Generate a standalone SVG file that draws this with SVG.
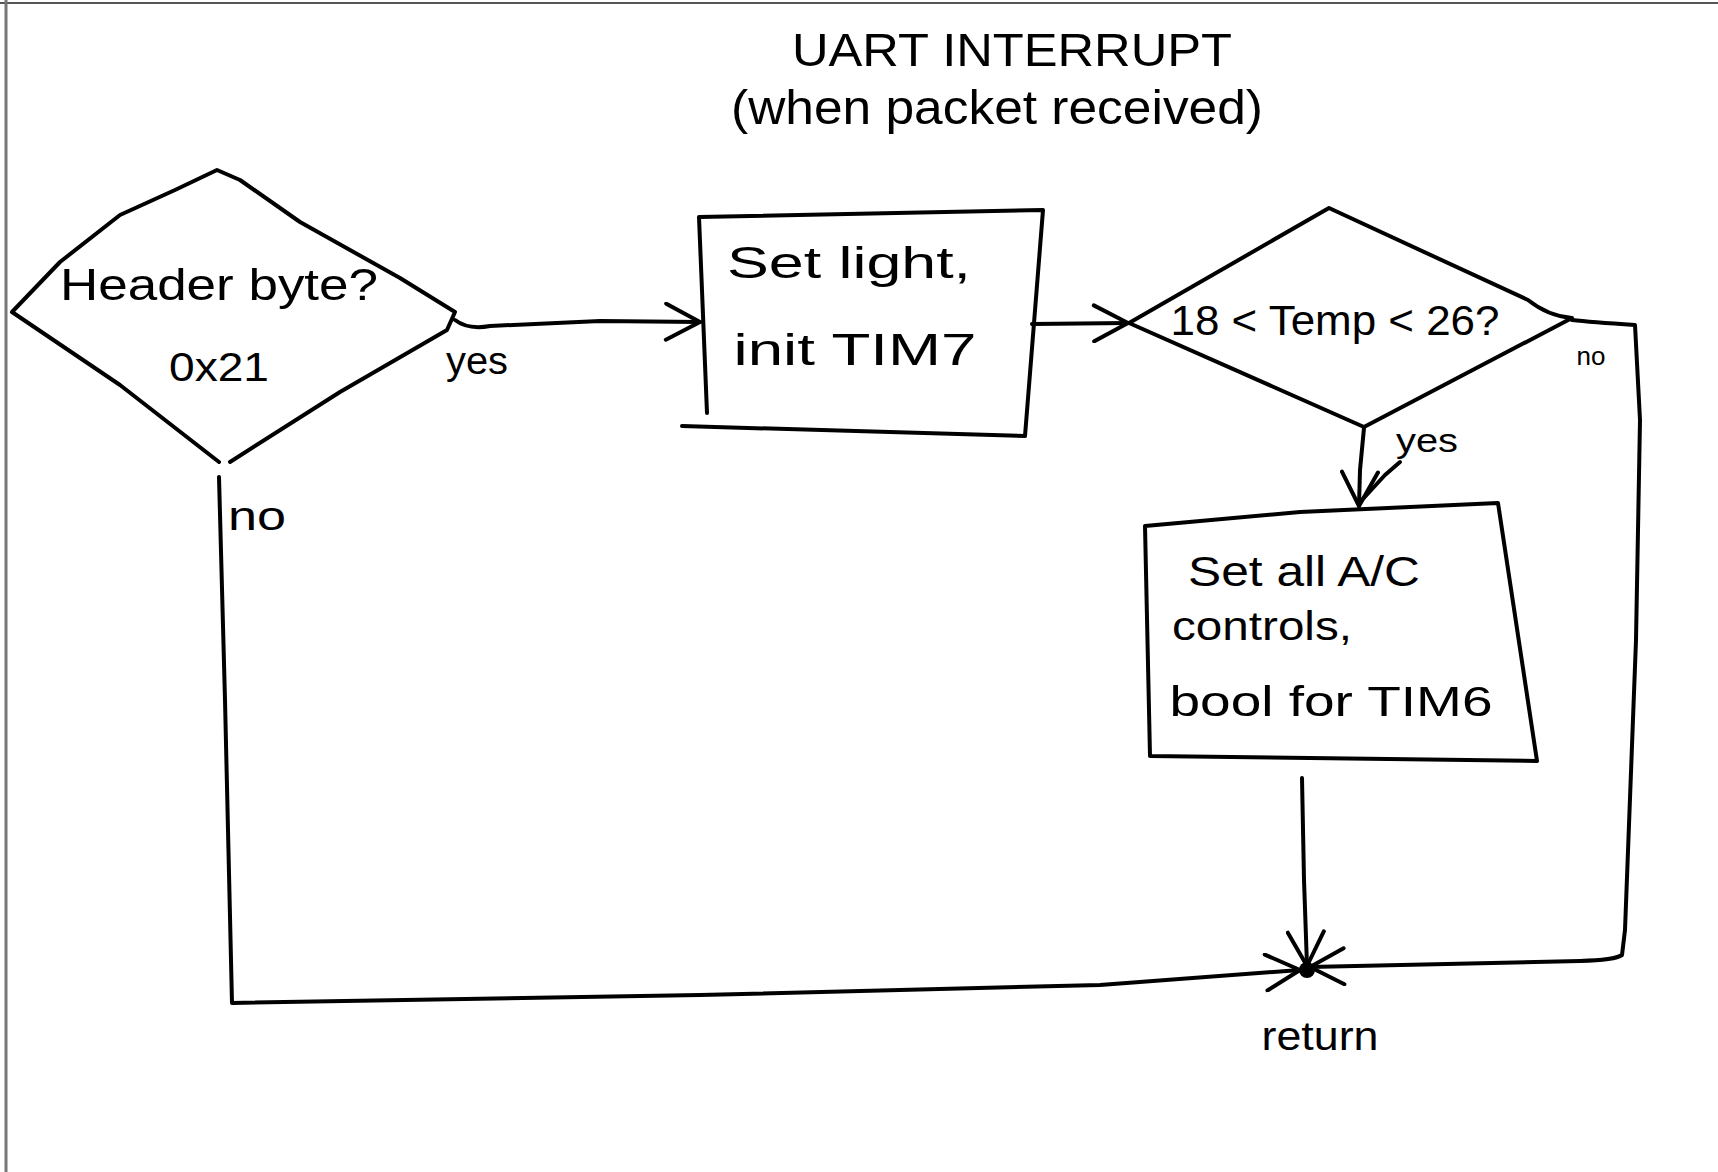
<svg xmlns="http://www.w3.org/2000/svg" width="1718" height="1172" viewBox="0 0 1718 1172">
<defs>
<style>
.s{fill:none;stroke:#000;stroke-width:4;stroke-linecap:round;stroke-linejoin:round}
.t{font-family:"Liberation Sans","DejaVu Sans",sans-serif;fill:#000;text-anchor:middle}
</style>
<marker id="arr" viewBox="0 0 40 40" refX="38" refY="20" markerWidth="40" markerHeight="40" markerUnits="userSpaceOnUse" orient="auto">
<path d="M4,2 L38,20 L4,38" fill="none" stroke="#000" stroke-width="4" stroke-linecap="round" stroke-linejoin="round"/>
</marker>
</defs>
<rect width="1718" height="1172" fill="#fff"/>
<line x1="0" y1="3" x2="1718" y2="3" stroke="#555" stroke-width="2"/>
<line x1="6" y1="0" x2="6" y2="1172" stroke="#777" stroke-width="3"/>

<g id="title">
<text class="t" x="1012" y="66" font-size="46" textLength="440" lengthAdjust="spacingAndGlyphs">UART INTERRUPT</text>
<text class="t" x="997" y="124" font-size="48" textLength="532" lengthAdjust="spacingAndGlyphs">(when packet received)</text>
</g>

<g id="connectors">
<path class="s" d="M455,320 Q468,330 490,326 L600,321 L700,322" marker-end="url(#arr)"/>
<path class="s" d="M1032,324 L1128,323" marker-end="url(#arr)"/>
<path class="s" d="M1364,428 L1360,470 L1359,506" marker-end="url(#arr)"/>
<path class="s" d="M1572,320 Q1590,322 1635,325 L1640,420 L1636,640 L1625,930 L1622,955 Q1615,960 1580,961 L1310,967" marker-end="url(#arr)"/>
<path class="s" d="M1302,778 L1304,880 L1307,966" marker-end="url(#arr)"/>
<path class="s" d="M219,477 L225,700 L232,1003 L700,995 L1100,985 L1300,970" marker-end="url(#arr)"/>
<circle cx="1307" cy="970" r="8" fill="#000"/>
<text class="t" x="477" y="374" font-size="38" textLength="62" lengthAdjust="spacingAndGlyphs">yes</text>
<text class="t" x="257" y="530" font-size="40" textLength="58" lengthAdjust="spacingAndGlyphs">no</text>
<text class="t" x="1591" y="365" font-size="26">no</text>
<text class="t" x="1427" y="452" font-size="34" textLength="62" lengthAdjust="spacingAndGlyphs">yes</text>
<path class="s" d="M1362,500 L1385,475 L1400,462"/>
</g>

<g id="header-byte">
<path class="s" d="M219,462 L120,385 L12,312 L60,262 L120,215 L175,190 L217,170 L240,180 L300,222 L400,278 L455,312 L447,330 L340,392 L230,462"/>
<text class="t" x="219" y="300" font-size="44" textLength="318" lengthAdjust="spacingAndGlyphs">Header byte?</text>
<text class="t" x="219" y="381" font-size="40" textLength="100" lengthAdjust="spacingAndGlyphs">0x21</text>
</g>

<g id="set-light">
<path class="s" d="M699,217 L1043,210 L1025,436 L682,426 M699,217 L707,413"/>
<text class="t" x="849" y="278" font-size="44" textLength="244" lengthAdjust="spacingAndGlyphs">Set light,</text>
<text class="t" x="855" y="365" font-size="44" textLength="243" lengthAdjust="spacingAndGlyphs">init TIM7</text>
</g>

<g id="temp-check">
<path class="s" d="M1329,208 L1528,300 Q1548,316 1572,318 L1364,427 L1129,323 Z"/>
<text class="t" x="1335" y="335" font-size="42" textLength="329" lengthAdjust="spacingAndGlyphs">18 &lt; Temp &lt; 26?</text>
</g>

<g id="set-ac">
<path class="s" d="M1145,526 L1300,512 L1498,503 L1537,761 L1150,756 Z"/>
<text class="t" x="1304" y="586" font-size="42" textLength="232" lengthAdjust="spacingAndGlyphs">Set all A/C</text>
<text class="t" x="1262" y="640" font-size="40" textLength="180" lengthAdjust="spacingAndGlyphs">controls,</text>
<text class="t" x="1331" y="716" font-size="42" textLength="323" lengthAdjust="spacingAndGlyphs">bool for  TIM6</text>
</g>

<g id="return">
<text class="t" x="1320" y="1050" font-size="40" textLength="117" lengthAdjust="spacingAndGlyphs">return</text>
</g>
</svg>
